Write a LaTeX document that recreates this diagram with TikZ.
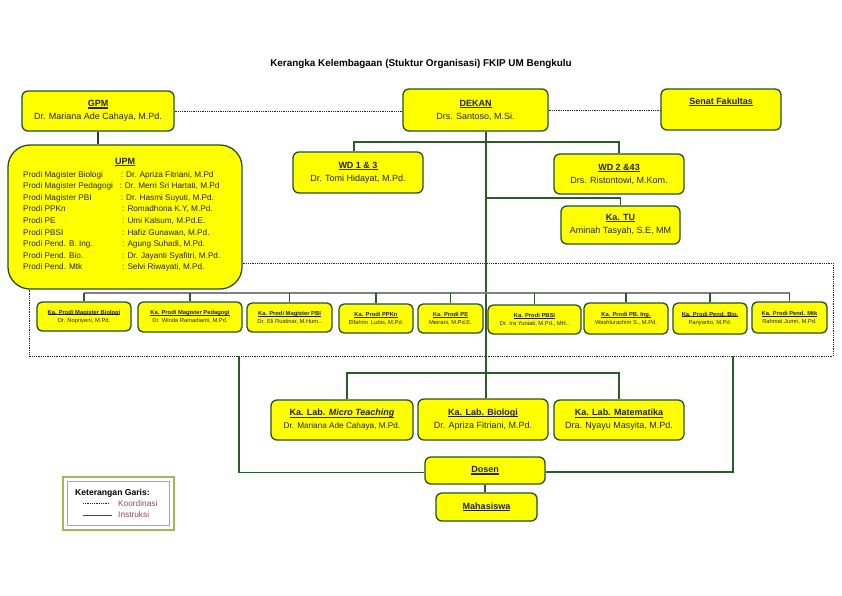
\documentclass[tikz,border=0pt]{standalone}
\usepackage{fontspec}
\setmainfont{Liberation Sans}
\usetikzlibrary{calc}
\definecolor{boxyellow}{HTML}{FFFF00}
\definecolor{boxedge}{HTML}{24501F}
\definecolor{connline}{HTML}{2E5A2A}
\definecolor{legendgreen}{HTML}{9BBB59}
\definecolor{legtext}{HTML}{8A4F4F}
\definecolor{nametext}{HTML}{262626}
\newsavebox\ulsave
\newcommand\ulin[1]{\sbox\ulsave{#1}\rlap{\rule[-0.38ex]{\wd\ulsave}{0.24ex}}\usebox\ulsave}
\begin{document}
\begin{tikzpicture}[x=1pt,y=-1pt,
  box/.style={draw=boxedge, fill=boxyellow, line width=1.3pt, rounded corners=6pt,
    inner sep=0pt, align=center, text=nametext, font=\fontsize{9}{13}\selectfont},
  pbox/.style={box, rounded corners=5pt, font=\fontsize{5.8}{8}\selectfont},
  txt/.style={inner sep=0pt, text=nametext, font=\fontsize{9}{13}\selectfont},
  upmtxt/.style={inner sep=0pt, text=nametext, font=\fontsize{8.2}{11}\selectfont},
  conn/.style={draw=connline, line width=1.3pt},
  dotline/.style={draw=black!85, line width=1pt, dash pattern=on 1pt off 0.8pt},
  rowline/.style={draw=gray, line width=1.3pt}]
\useasboundingbox (0,0) rectangle (842,595);
\fill[white] (0,0) rectangle (842,595);

% title
\node[inner sep=0pt, font=\bfseries\fontsize{9.9}{11}\selectfont] (title) at (421,64)
  {Kerangka Kelembagaan (Stuktur Organisasi) FKIP UM Bengkulu};

% top row
\node[box, minimum width=152, minimum height=40] (gpm) at (98,111)
  {\textbf{\ulin{GPM}}\\Dr. Mariana Ade Cahaya, M.Pd.};
\node[box, minimum width=145, minimum height=42] (dekan) at (475.5,110)
  {\textbf{\ulin{DEKAN}}\\Drs. Santoso, M.Si.};
\node[box, minimum width=120, minimum height=41] (senat) at (721,109.5) {};
\node[txt, font=\bfseries\fontsize{9}{13}\selectfont] (senattxt) at (721,102) {\ulin{Senat Fakultas}};

% UPM
\node[box, rounded corners=22pt, minimum width=234, minimum height=144] (upm) at (125,217) {};
\node[txt, font=\bfseries\fontsize{9}{13}\selectfont] (upmtitle) at (125,162) {\ulin{UPM}};
\foreach \a/\b/\cx [count=\i] in {
  Prodi Magister Biologi/{Dr. Apriza Fitriani, M.Pd}/120.7,
  Prodi Magister Pedagogi/{Dr. Merri Sri Hartati, M.Pd}/119.3,
  Prodi Magister PBI/{Dr. Hasmi Suyuti, M.Pd.}/120.7,
  Prodi PPKn/{Romadhona K.Y, M.Pd.}/122,
  Prodi PE/{Umi Kalsum, M.Pd.E.}/122,
  Prodi PBSI/{Hafiz Gunawan, M.Pd.}/122,
  Prodi Pend. B. Ing./{Agung Suhadi, M.Pd.}/122,
  Prodi Pend. Bio./{Dr. Jayanti Syafitri, M.Pd.}/122,
  Prodi Pend. Mtk/{Selvi Riwayati, M.Pd.}/122}
{
  \node[upmtxt, anchor=base west] (ul\i) at (23,{177.3+11.55*(\i-1)}) {\a};
  \node[upmtxt, anchor=base west] (ur\i) at (\cx,{177.3+11.55*(\i-1)}) {: \b};
}

% WD and TU
\node[box, minimum width=130, minimum height=41] (wd13) at (358,172.5)
  {\textbf{\ulin{WD 1 \& 3}}\\Dr. Tomi Hidayat, M.Pd.};
\node[box, minimum width=130, minimum height=40] (wd2) at (619,174)
  {\textbf{\ulin{WD 2 \&43}}\\Drs. Ristontowi, M.Kom.};
\node[box, minimum width=119, minimum height=38] (katu) at (620.5,225)
  {\textbf{\ulin{Ka. TU}}\\Aminah Tasyah, S.E, MM};

% Prodi row
\node[pbox, minimum width=94, minimum height=29] (p1) at (84,316.5)
  {\textbf{\ulin{Ka. Prodi Magister Biologi}}\\Dr. Nopriyeni, M.Pd.};
\node[pbox, minimum width=104, minimum height=30] (p2) at (190,317)
  {\textbf{\ulin{Ka. Prodi Magister Pedagogi}}\\Dr. Winda Ramadianti, M.Pd.};
\node[pbox, minimum width=85, minimum height=29] (p3) at (289.5,317.5)
  {\textbf{\ulin{Ka. Prodi Magister PBI}}\\Dr. Eli Rustinar, M.Hum..};
\node[pbox, minimum width=74, minimum height=29] (p4) at (376,318.5)
  {\textbf{\ulin{Ka. Prodi PPKn}}\\Elfahmi\ \ Lubis, M.Pd.};
\node[pbox, minimum width=65, minimum height=29] (p5) at (450.5,318.5)
  {\textbf{\ulin{Ka. Prodi PE}}\\Meirani, M.Pd.E.};
\node[pbox, minimum width=93, minimum height=29] (p6) at (534.5,319.5)
  {\textbf{\ulin{Ka. Prodi PBSI}}\\Dr. Ira Yuniati, M.Pd., MH..};
\node[pbox, minimum width=84, minimum height=31] (p7) at (626,318.5)
  {\textbf{\ulin{Ka. Prodi PB. Ing.}}\\Washlurachim S., M.Pd.};
\node[pbox, minimum width=74, minimum height=31] (p8) at (710,318.5)
  {\textbf{\ulin{Ka. Prodi Pend. Bio.}}\\Pariyanto, M.Pd.};
\node[pbox, minimum width=75, minimum height=31] (p9) at (789.5,317.5)
  {\textbf{\ulin{Ka. Prodi Pend. Mtk}}\\Rahmat Jumri, M.Pd.};

% Labs
\node[box, minimum width=142, minimum height=40] (labmt) at (342,420)
  {\textbf{\ulin{Ka. Lab. \textit{Micro Teaching}}}\\{\fontsize{8.2}{10}\selectfont Dr. Mariana Ade Cahaya, M.Pd.}};
\node[box, minimum width=130, minimum height=41] (labbio) at (483,419.5)
  {\textbf{\ulin{Ka. Lab. Biologi}}\\Dr. Apriza Fitriani, M.Pd.};
\node[box, minimum width=130, minimum height=40] (labmat) at (619,420)
  {\textbf{\ulin{Ka. Lab. Matematika}}\\Dra. Nyayu Masyita, M.Pd.};

% Dosen & Mahasiswa
\node[box, minimum width=120, minimum height=27] (dosen) at (485,470.5) {\textbf{\ulin{Dosen}}};
\node[box, minimum width=101, minimum height=28] (mhs) at (486.5,507) {\textbf{\ulin{Mahasiswa}}};

% junction coordinates
\coordinate (jTop) at (486,142);
\coordinate (jTU) at (486,198);
\coordinate (jLab) at (486,373);
\coordinate (jRow) at (0,293);
\coordinate (dTR) at (833,263);
\coordinate (dBR) at (833,356);
\coordinate (dBL) at (29,356);
\coordinate (jL) at (239,356);
\coordinate (jR) at (733,356);

% coordination (dotted)
\draw[dotline] (gpm.east) -- (gpm.east -| dekan.west);
\draw[dotline] (dekan.east) -- (dekan.east -| senat.west);
\draw[dotline] (upm.east |- dTR) -- (dTR) -- (dBR) -- (dBL) -- (dBL |- upm.south);

% instruction lines
\draw[conn, draw=black!80] (gpm.south) -- (gpm.south |- upm.north);
\draw[conn] (dekan.south -| jTop) -- (labbio.north -| jTop);
\draw[conn] ([xshift=-4pt]wd13.north) |- (wd2.north |- jTop) -- (wd2.north);
\draw[conn] (jTU) -| (katu.north);
\draw[conn] ([xshift=5pt]labmt.north) |- (jLab) -| (labmat.north);
\draw[rowline] (p1.north |- jRow) -- (p9.north |- jRow);
\foreach \p in {p1,p2,p3,p4,p5,p6,p7,p8,p9}
  \draw[conn] (\p.north) -- (\p.north |- jRow);
\draw[conn] ([yshift=-2pt]dosen.west) -| (jL);
\draw[conn] ([yshift=-1.5pt]dosen.east) -| (jR);
\draw[conn] (dosen.south) -- (dosen.south |- mhs.north);

% legend
\node[draw=legendgreen, line width=2.5pt, minimum width=111, minimum height=53, inner sep=0pt] (legend) at (118.5,503.5) {};
\node[draw=legendgreen, line width=0.6pt, minimum width=102, minimum height=44, inner sep=0pt] (legendin) at (118.5,503.5) {};
\node[inner sep=0pt, anchor=west, font=\bfseries\fontsize{8.6}{10}\selectfont] (legtitle) at (75,493) {Keterangan Garis:};
\node[inner sep=0pt, anchor=west, text=legtext, font=\fontsize{8.3}{10}\selectfont] (legk) at (118,503.5) {Koordinasi};
\node[inner sep=0pt, anchor=west, text=legtext, font=\fontsize{8.3}{10}\selectfont] (legi) at (118,515) {Instruksi};
\coordinate (ld1) at (83,503);
\coordinate (ld2) at (110,503);
\coordinate (ls1) at (83,515.5);
\coordinate (ls2) at (112,515.5);
\draw[dotline, line width=0.8pt] (ld1) -- (ld2);
\draw[conn, line width=1.1pt] (ls1) -- (ls2);
\end{tikzpicture}
\end{document}
